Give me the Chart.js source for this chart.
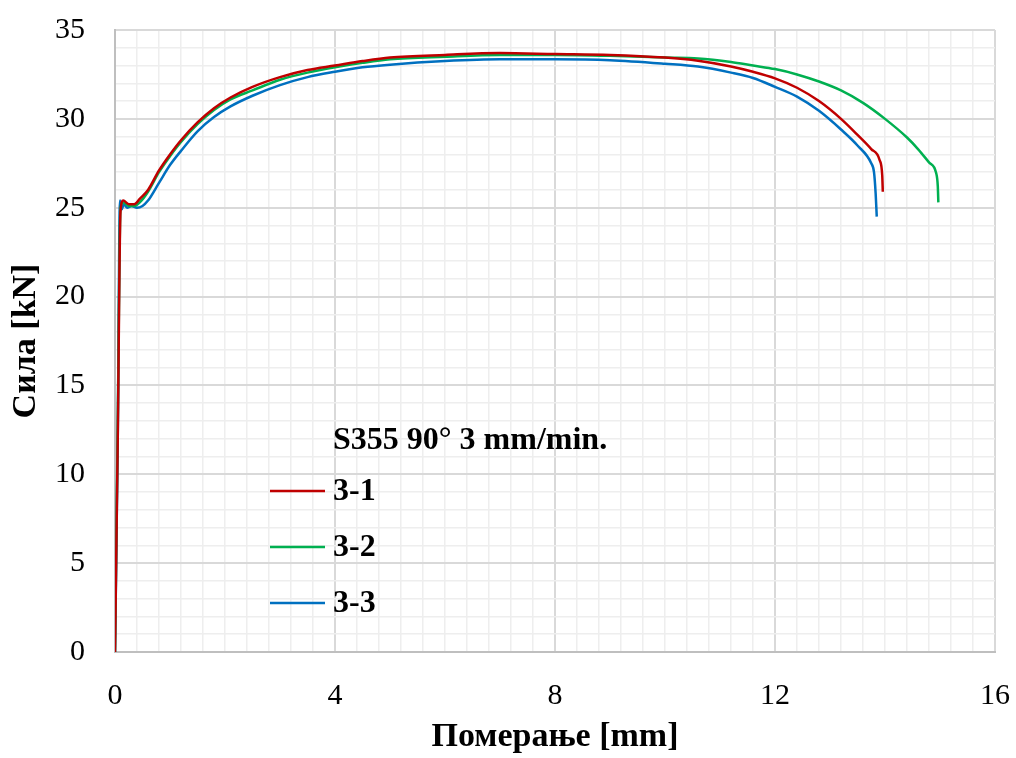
<!DOCTYPE html>
<html>
<head>
<meta charset="utf-8">
<title>S355 90° 3 mm/min.</title>
<script src="https://cdn.jsdelivr.net/npm/chart.js@4/dist/chart.umd.min.js"></script>
<style>
  html, body { margin: 0; padding: 0; background: #ffffff; }
  #wrap { width: 1016px; height: 758px; position: relative; }
</style>
</head>
<body>
<div id="wrap"><canvas id="c" width="1016" height="758"></canvas></div>
<script>
// Force–displacement records, test series 3 (S355, 90°, 3 mm/min)
const legendTitle = 'S355 90° 3 mm/min.';
const seriesNames = ['3-1', '3-2', '3-3'];
const seriesColors = ['#c00000', '#00b050', '#0070c0'];

const x31 = [0, 0.05, 0.1, 0.15, 0.25, 0.35, 0.45, 0.6, 0.8, 1.0, 1.2, 1.5, 1.8, 2.1, 2.5, 3.0, 3.5, 4.0, 4.5, 5.0, 6.0, 7.0, 8.0, 9.0, 10.0, 10.6, 11.2, 11.6, 12.0, 12.4, 12.8, 13.2, 13.5, 13.75, 13.9, 13.95, 13.96];
const y31 = [0, 12, 24.8, 25.4, 25.2, 25.2, 25.5, 26.0, 27.1, 28.0, 28.8, 29.8, 30.6, 31.2, 31.8, 32.35, 32.75, 33.0, 33.25, 33.45, 33.6, 33.7, 33.65, 33.6, 33.45, 33.27, 32.95, 32.65, 32.28, 31.75, 31.0, 30.0, 29.1, 28.3, 27.7, 26.8, 25.9];

const x32 = [0, 0.05, 0.1, 0.15, 0.25, 0.35, 0.45, 0.6, 0.8, 1.0, 1.2, 1.5, 1.8, 2.1, 2.5, 3.0, 3.5, 4.0, 4.5, 5.0, 6.0, 7.0, 8.0, 9.0, 10.0, 10.6, 11.2, 11.6, 12.0, 12.4, 12.8, 13.2, 13.6, 14.0, 14.4, 14.6, 14.8, 14.93, 14.96, 14.97];
const y32 = [0, 13, 25.0, 25.3, 25.1, 25.1, 25.3, 25.9, 27.0, 27.9, 28.7, 29.7, 30.5, 31.1, 31.6, 32.2, 32.6, 32.9, 33.15, 33.35, 33.5, 33.6, 33.6, 33.55, 33.45, 33.4, 33.2, 33.0, 32.8, 32.5, 32.1, 31.6, 30.9, 30.0, 28.95, 28.3, 27.55, 26.95, 26.2, 25.3];

const x33 = [0, 0.05, 0.09, 0.12, 0.16, 0.22, 0.3, 0.4, 0.5, 0.6, 0.8, 1.0, 1.2, 1.5, 1.8, 2.1, 2.5, 3.0, 3.5, 4.0, 4.5, 5.0, 6.0, 7.0, 8.0, 9.0, 10.0, 10.6, 11.2, 11.6, 12.0, 12.4, 12.8, 13.2, 13.5, 13.75, 13.8, 13.83, 13.85];
const y33 = [0, 12, 25.4, 24.9, 25.2, 25.0, 25.1, 25.0, 25.1, 25.4, 26.4, 27.4, 28.2, 29.3, 30.1, 30.7, 31.3, 31.9, 32.35, 32.65, 32.9, 33.05, 33.25, 33.35, 33.35, 33.3, 33.1, 32.94, 32.6, 32.3, 31.8, 31.25, 30.45, 29.4, 28.5, 27.5, 27.0, 25.8, 24.5];

const xLabelValues = [0, 4, 8, 12, 16];
const yLabelValues = [0, 5, 10, 15, 20, 25, 30, 35];
const xTitle = 'Померање [mm]';
const yTitle = 'Сила [kN]';

const FONT = "'Liberation Serif', 'Times New Roman', serif";

function pairs(xs, ys) { return xs.map((x, i) => ({ x: x, y: ys[i] })); }
function isIn(list, v) { return list.some(t => Math.abs(t - v) < 1e-6); }

const xsAll = [x31, x32, x33];
const ysAll = [y31, y32, y33];

const datasets = seriesNames.map((name, i) => ({
  label: name,
  data: pairs(xsAll[i], ysAll[i]),
  borderColor: seriesColors[i],
  backgroundColor: seriesColors[i],
  borderWidth: 2.5,
  pointRadius: 0,
  cubicInterpolationMode: 'monotone',
  fill: false
}));

// Legend drawn inside the plot area
const innerLegend = {
  id: 'innerLegend',
  afterDatasetsDraw(chart) {
    const ctx = chart.ctx;
    const ca = chart.chartArea;
    ctx.save();
    ctx.fillStyle = '#000000';
    ctx.textBaseline = 'middle';
    ctx.textAlign = 'left';
    ctx.font = "bold 32px " + FONT;
    const textX = ca.left + 218;
    ctx.fillText(legendTitle, textX, ca.top + 411);
    chart.data.datasets.forEach((ds, i) => {
      const y = ca.top + 461 + i * 56;
      ctx.strokeStyle = ds.borderColor;
      ctx.lineWidth = 2.5;
      ctx.beginPath();
      ctx.moveTo(ca.left + 155, y);
      ctx.lineTo(ca.left + 210, y);
      ctx.stroke();
      ctx.fillText(ds.label, textX, y + 1);
    });
    ctx.restore();
  }
};

new Chart(document.getElementById('c'), {
  type: 'line',
  data: { datasets: datasets },
  plugins: [innerLegend],
  options: {
    responsive: false,
    animation: false,
    layout: { padding: { top: 30, right: 21, left: 0, bottom: 0 } },
    plugins: { legend: { display: false }, tooltip: { enabled: false } },
    scales: {
      x: {
        type: 'linear',
        min: 0, max: 16,
        afterFit(scale) {
          scale.height = 106;
          scale.paddingLeft = 0;
          scale.paddingRight = 0;
        },
        ticks: {
          stepSize: 0.4,
          autoSkip: false,
          maxRotation: 0,
          padding: 26,
          color: '#000000',
          font: { family: FONT, size: 30 },
          callback: v => isIn(xLabelValues, v) ? String(Math.round(v)) : ''
        },
        grid: {
          drawTicks: false,
          color: c => isIn(xLabelValues, c.tick.value) ? '#d9d9d9' : '#eeeeee',
          lineWidth: c => isIn(xLabelValues, c.tick.value) ? 2 : 1.5
        },
        border: { color: '#bfbfbf', width: 2 },
        title: {
          display: true,
          text: xTitle,
          color: '#000000',
          font: { family: FONT, size: 34, weight: 'bold' },
          padding: { top: 4, bottom: 0 }
        }
      },
      y: {
        min: 0, max: 35,
        afterFit(scale) {
          scale.width = 115;
          scale.paddingTop = 0;
          scale.paddingBottom = 0;
        },
        ticks: {
          stepSize: 1,
          autoSkip: false,
          padding: 30,
          color: '#000000',
          font: { family: FONT, size: 30 },
          callback: v => isIn(yLabelValues, v) ? String(Math.round(v)) : ''
        },
        grid: {
          drawTicks: false,
          color: c => isIn(yLabelValues, c.tick.value) ? '#d9d9d9' : '#eeeeee',
          lineWidth: c => isIn(yLabelValues, c.tick.value) ? 2 : 1.5
        },
        border: { color: '#bfbfbf', width: 2 },
        title: {
          display: true,
          text: yTitle,
          color: '#000000',
          font: { family: FONT, size: 34, weight: 'bold' },
          padding: { top: 6, bottom: 0 }
        }
      }
    }
  }
});
</script>
</body>
</html>
